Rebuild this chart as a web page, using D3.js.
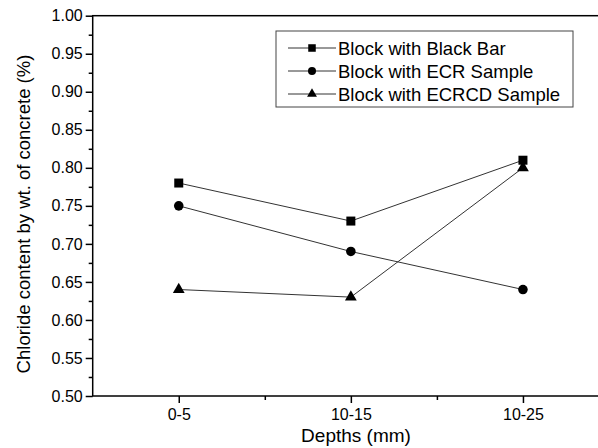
<!DOCTYPE html>
<html>
<head>
<meta charset="utf-8">
<script src="https://cdn.jsdelivr.net/npm/d3@7"></script>
<style>
  body { margin: 0; background: #fff; }
  svg { display: block; font-family: Arial, "Liberation Sans", sans-serif; }
</style>
</head>
<body>
<svg class="chart" width="598" height="448"></svg>
<script>
const depths = ['0-5', '10-15', '10-25'];
const blackBar = [0.78, 0.73, 0.81];
const ecrSample = [0.75, 0.69, 0.64];
const ecrcdSample = [0.64, 0.63, 0.80];
const seriesNames = ['Block with Black Bar', 'Block with ECR Sample', 'Block with ECRCD Sample'];
const yTicks = [0.50, 0.55, 0.60, 0.65, 0.70, 0.75, 0.80, 0.85, 0.90, 0.95, 1.00];

const plotLeft = 92.7;
const plotRight = 609;
const plotTop = 15.7;
const plotBottom = 396;
const fontStack = 'Arial, "Liberation Sans", sans-serif';

const svg = d3.select('svg.chart');

const x = d3.scalePoint()
    .domain(depths)
    .range([plotLeft, plotRight])
    .padding(0.5);

const y = d3.scaleLinear()
    .domain([0.5, 1.0])
    .range([plotBottom, plotTop]);

// frame
svg.append('rect')
    .attr('x', plotLeft)
    .attr('y', plotTop)
    .attr('width', plotRight - plotLeft)
    .attr('height', plotBottom - plotTop)
    .attr('fill', 'none')
    .attr('stroke', '#000')
    .attr('stroke-width', 1.5);

// y axis, major + minor
const yMinor = d3.range(0.525, 1.0, 0.05);
svg.append('g')
    .attr('transform', `translate(${plotLeft},0)`)
    .call(d3.axisLeft(y).tickValues(yMinor).tickSize(4).tickFormat(''))
    .call(g => g.select('.domain').remove())
    .call(g => g.selectAll('line').attr('stroke-width', 1.5));

svg.append('g')
    .attr('transform', `translate(${plotLeft},0)`)
    .call(d3.axisLeft(y).tickValues(yTicks).tickSize(7).tickPadding(3).tickFormat(d3.format('.2f')))
    .call(g => g.select('.domain').remove())
    .call(g => g.selectAll('line').attr('stroke-width', 1.5))
    .call(g => g.selectAll('text').attr('font-size', 16).attr('fill', '#000').attr('font-family', fontStack));

// x axis, major + minor
const step = x.step();
const xMinor = depths.slice(0, -1).map(d => x(d) + step / 2);
const xLin = d3.scaleLinear().domain([0, 1]).range([0, 1]);
svg.append('g')
    .attr('transform', `translate(0,${plotBottom})`)
    .call(d3.axisBottom(xLin).tickValues(xMinor).tickSize(4).tickFormat(''))
    .call(g => g.select('.domain').remove())
    .call(g => g.selectAll('line').attr('stroke-width', 1.5));

svg.append('g')
    .attr('transform', `translate(0,${plotBottom})`)
    .call(d3.axisBottom(x).tickSize(7).tickPadding(6))
    .call(g => g.select('.domain').remove())
    .call(g => g.selectAll('line').attr('stroke-width', 1.5))
    .call(g => g.selectAll('text').attr('font-size', 16).attr('fill', '#000').attr('font-family', fontStack));

// axis titles
svg.append('text')
    .attr('x', 356)
    .attr('y', 442)
    .attr('text-anchor', 'middle')
    .attr('font-size', 19)
    .attr('font-family', fontStack)
    .text('Depths (mm)');

svg.append('text')
    .attr('transform', 'translate(30,214) rotate(-90)')
    .attr('text-anchor', 'middle')
    .attr('font-size', 18.5)
    .attr('font-family', fontStack)
    .text('Chloride content by wt. of concrete (%)');

// series
const allSeries = [blackBar, ecrSample, ecrcdSample];
const symbols = [d3.symbolSquare, d3.symbolCircle, d3.symbolTriangle];
const symbolSizes = [81, 72, 60];

const line = d3.line()
    .x((d, i) => x(depths[i]))
    .y(d => y(d));

allSeries.forEach((vals, s) => {
    svg.append('path')
        .datum(vals)
        .attr('d', line)
        .attr('fill', 'none')
        .attr('stroke', '#333')
        .attr('stroke-width', 1);

    svg.selectAll(null)
        .data(vals)
        .enter()
        .append('path')
        .attr('d', d3.symbol().type(symbols[s]).size(symbolSizes[s]))
        .attr('transform', (d, i) => `translate(${x(depths[i])},${y(d)})`)
        .attr('fill', '#000');
});

// legend
const legend = svg.append('g').attr('transform', 'translate(276,31)');
legend.append('rect')
    .attr('width', 297)
    .attr('height', 76)
    .attr('fill', '#fff')
    .attr('stroke', '#444')
    .attr('stroke-width', 1);

seriesNames.forEach((name, i) => {
    const ly = 17 + i * 23;
    legend.append('line')
        .attr('x1', 12).attr('x2', 60)
        .attr('y1', ly).attr('y2', ly)
        .attr('stroke', '#333')
        .attr('stroke-width', 1);
    legend.append('path')
        .attr('d', d3.symbol().type(symbols[i]).size(symbolSizes[i] * 0.7))
        .attr('transform', `translate(36,${ly})`)
        .attr('fill', '#000');
    legend.append('text')
        .attr('x', 62)
        .attr('y', ly + 6.5)
        .attr('font-size', 18.5)
        .attr('font-family', fontStack)
        .text(name);
});
</script>
</body>
</html>
